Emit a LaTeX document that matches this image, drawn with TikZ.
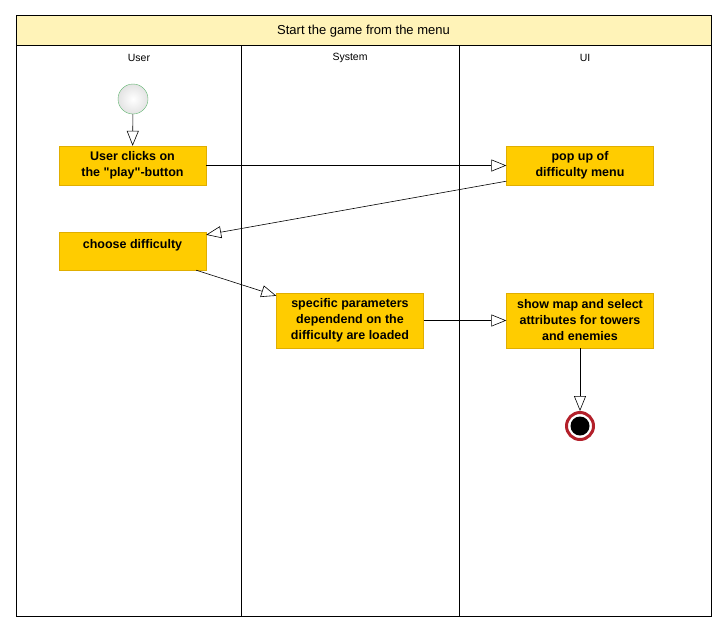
\documentclass[tikz,border=0pt]{standalone}
\usepackage{fontspec}
\setmainfont{Liberation Sans}[Ligatures=TeXOff]
\usetikzlibrary{positioning,arrows.meta,calc}

\definecolor{actfill}{HTML}{FFCC00}
\definecolor{actline}{HTML}{E0AE00}
\definecolor{titlefill}{HTML}{FFF3B8}
\definecolor{startline}{HTML}{5DB56D}
\definecolor{endring}{HTML}{B3202A}

\begin{document}
\begin{tikzpicture}[x=1pt, y=-1pt,
  action/.style={rectangle, draw=actline, fill=actfill, align=center, minimum width=147pt, inner sep=2pt, font=\bfseries\fontsize{12.5}{16}\selectfont},
  lanelabel/.style={font=\fontsize{10.5}{12}\selectfont},
  initial/.style={circle, draw=startline, shading=radial, inner color=white, outer color=gray!22, minimum size=30pt, inner sep=0pt},
  final/.style={circle, draw=endring, line width=3pt, fill=white, minimum size=27pt, inner sep=0pt,
    path picture={\fill[black] (path picture bounding box.center) circle (9.5pt);}},
  flow/.style={-{Triangle[open, length=15pt, width=12pt]}, semithick},
]
\useasboundingbox (0,0) rectangle (727,633);

% === Swimlane frame ===
\fill[titlefill] (16,15) rectangle (711,45);
\draw (16,45) -- (711,45);
\draw (241,45) -- (241,616);
\draw (459,45) -- (459,616);
\draw[thick] (16,15) rectangle (711,616);
\node[font=\fontsize{13}{15}\selectfont] (title) at (363.5,31) {Start the game from the menu};
\node[lanelabel] (user) at (139,58) {User};
\node[lanelabel] (system) at (350,58) {System};
\node[lanelabel] (ui) at (585,58) {UI};

% === Activities ===
\node[initial] (start) at (133,99) {};
\node[action, minimum height=39pt] (click) at (132.5,165.5) {User clicks on\\the "play"-button};
\node[action, minimum height=39pt] (popup) at (580,165.5) {pop up of\\difficulty menu};
\node[action, text height=14pt, text depth=20pt] (choose) at (132.5,251) {choose difficulty};
\node[action, minimum height=55pt] (params) at (350,320.5) {specific parameters\\dependend on the\\difficulty are loaded};
\node[action, minimum height=55pt] (showmap) at (580,320.5) {show map and select\\attributes for towers\\and enemies};
\node[final] (stop) at (580,426) {};

% === Control flow ===
\draw[flow] (start) -- (click);
\draw[flow] (click) -- (popup);
\draw[flow] ($(popup.south west)+(0,-4)$) -- ($(choose.north east)+(0,3)$);
\draw[flow] ($(choose.south east)+(-10,0)$) -- ($(params.north west)+(0,3)$);
\draw[flow] (params) -- (showmap);
\draw[flow] (showmap) -- (stop);

\end{tikzpicture}
\end{document}
